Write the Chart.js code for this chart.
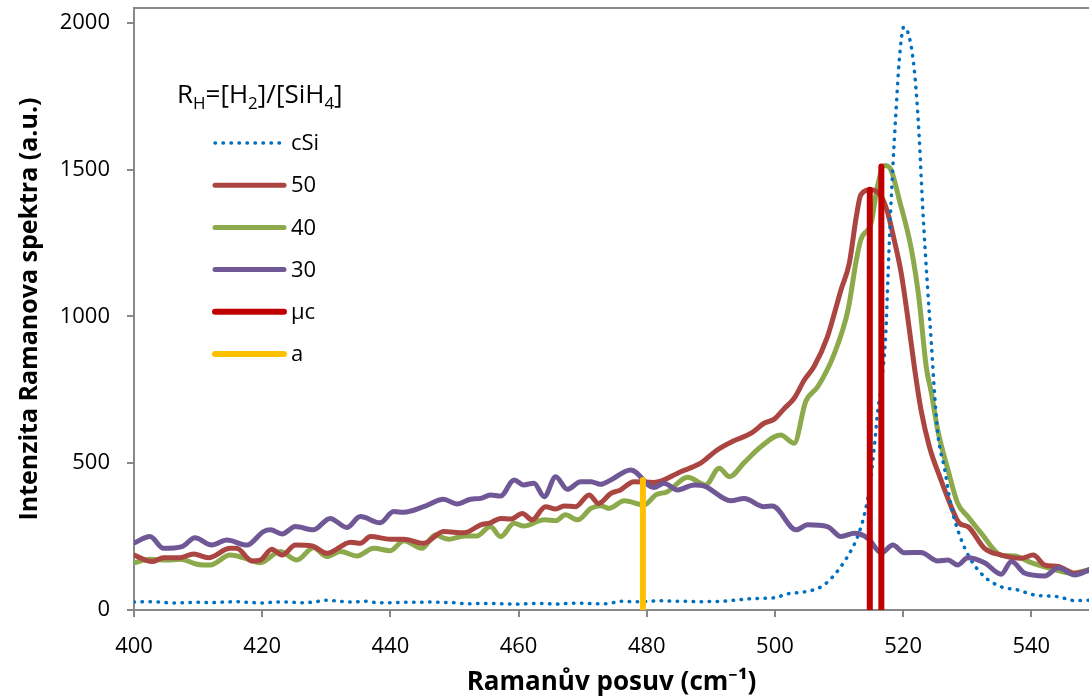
<!DOCTYPE html>
<html>
<head>
<meta charset="utf-8">
<script src="https://cdn.jsdelivr.net/npm/chart.js@4.4.1/dist/chart.umd.min.js"></script>
<style>
  html, body { margin: 0; padding: 0; background: #fff; }
</style>
</head>
<body>
<canvas id="myChart" width="1089" height="700"></canvas>
<script>
// Raman spectra, [shift cm-1, intensity]
const cSi = [[400,27],[402,28],[404,27],[406,24],[408,25],[410,26],[412,25],[414,27],[416,28],[418,26],[420,24],[422,27],[424,27],[426,25],[428,27],[430,33],[432,30],[434,27],[436,30],[438,25],[440,25],[442,26],[444,26],[446,27],[448,26],[450,25],[452,21],[454,22],[456,22],[458,21],[460,20],[462,22],[464,22],[466,20],[468,23],[470,23],[472,21],[474,22],[476,30],[478,28],[480,29],[482,32],[484,30],[486,30],[488,28],[490,29],[492,30],[494,34],[496,38],[498,40],[500,42],[502,55],[504,60],[505.6,66],[507.2,79],[508.8,108],[510.3,148],[511.9,204],[512.9,250],[514,329],[514.7,409],[515.5,556],[516,670],[516.6,770],[517.3,943],[517.6,1113],[517.9,1283],[518.4,1510],[518.9,1703],[519.4,1874],[520.1,1985],[520.7,1970],[521.5,1885],[522,1777],[522.5,1613],[523.1,1352],[523.8,1102],[524.4,909],[524.9,738],[525.4,602],[526.5,477],[527.5,352],[529.1,238],[530.6,170],[532.7,113],[535.3,79],[537.9,68],[540.5,51],[544.2,45],[546.8,32],[549,33]];

const rh50 = [[400,187],[402.8,165],[404.6,178],[407.2,178],[409.3,191],[411.6,178],[415,210],[416,210],[418.4,167],[419.7,170],[421.5,207],[423.1,187],[425.2,221],[427.8,218],[430.1,193],[433.8,231],[435.3,227],[436.9,250],[440,241],[442.1,241],[445.2,227],[448.3,267],[451.5,263],[454.1,290],[455.6,297],[457.2,312],[458.8,310],[460.6,329],[462.1,307],[464.2,352],[465.8,344],[467.1,354],[468.9,352],[471,392],[472.5,363],[474.4,397],[475.9,409],[478,437],[481.1,434],[485.3,471],[488.4,500],[491,545],[493.6,576],[496.3,602],[498.3,636],[499.9,650],[501.5,687],[503,721],[504.6,784],[506.1,829],[508.2,931],[510.3,1090],[511.6,1181],[512.7,1340],[513.4,1414],[515,1431],[516.6,1408],[517.6,1352],[518.6,1261],[519.7,1147],[520.7,999],[521.8,820],[522.8,680],[524.1,556],[525.9,443],[527.5,352],[528.8,295],[530.1,284],[532.7,210],[535.3,187],[538.4,176],[540.3,187],[542.1,153],[544.2,148],[546.8,125],[549.2,136]];

const rh40 = [[400,161],[402.5,173],[405.1,170],[407.2,173],[409.8,156],[411.9,153],[415,187],[417.1,178],[419.7,161],[422.8,199],[425.4,170],[428,212],[430.1,182],[432.2,199],[434.8,184],[437.4,210],[440,202],[442.1,236],[444.9,210],[447,255],[449.1,241],[451.5,252],[453.5,252],[455.6,284],[457.2,250],[459.3,295],[460.8,286],[464,307],[465.8,304],[467.3,324],[469.2,307],[471.3,346],[472.8,355],[474.1,346],[476.5,372],[479.6,358],[481.4,392],[483.2,403],[486.4,452],[489.2,426],[491.3,483],[492.9,454],[495.2,502],[497.8,556],[500.9,596],[503,568],[504.8,710],[506.7,761],[509.3,875],[511.4,1022],[512.7,1192],[513.4,1261],[515,1318],[516,1443],[517.1,1514],[518.1,1499],[519.4,1397],[521.3,1227],[522.5,1056],[523.6,829],[524.4,740],[525.4,613],[527,477],[528.5,364],[530.1,318],[532.2,261],[535.3,187],[537.4,184],[540,161],[542.6,144],[546.3,125],[549.2,139]];

const rh30 = [[400,228],[402.5,250],[404.6,210],[407.5,216],[409.5,246],[412.1,221],[414.5,238],[417.6,221],[420.2,267],[421.3,273],[423.1,259],[425.2,284],[428,273],[430.6,312],[433.2,281],[435.3,318],[438.4,297],[440.5,335],[442.1,333],[445.2,352],[448.3,377],[450.4,361],[452.5,377],[454.1,380],[455.6,392],[457.2,388],[459.3,443],[460.8,426],[462.4,432],[464,386],[465.8,454],[467.6,411],[469.7,437],[471.3,437],[472.8,428],[474.4,443],[477.5,477],[481.1,417],[482.7,432],[484.8,409],[487.4,426],[489,422],[493.1,372],[495.2,380],[498.3,352],[499.6,354],[503.3,273],[505.1,290],[508.2,284],[510.3,250],[512.4,261],[514.5,244],[516.6,195],[518.4,221],[520.2,195],[522.8,196],[525.4,167],[527,170],[528.5,153],[530.1,178],[532.7,161],[535.3,122],[536.9,165],[539,125],[542.1,116],[544.2,144],[546.8,119],[549.2,139]];

// marker lines: microcrystalline and amorphous positions
const muc = [[514.8,0],[514.8,1431],[515.7,null],[516.6,1510],[516.6,0]];
const amorph = [[479.4,0],[479.4,443]];

const labels = ['cSi', '50', '40', '30', 'μc', 'a'];
const yTicks = [0, 500, 1000, 1500, 2000];
const xTicks = [400, 420, 440, 460, 480, 500, 520, 540];

const FONT = "'Open Sans', 'Noto Sans', sans-serif";

function pts(arr) {
    return arr.map(function(p) { return { x: p[0], y: p[1] }; });
}

// legend drawn inside the plot, like the original
const legendBox = {
    id: 'legendBox',
    afterDraw(chart) {
        const c = chart.ctx;
        c.save();
        c.fillStyle = '#000';
        c.textBaseline = 'alphabetic';
        // title R_H=[H_2]/[SiH_4]
        let x = 177, y = 103;
        const parts = [['R', 0], ['H', 1], ['=[H', 0], ['2', 1], [']/[SiH', 0], ['4', 1], [']', 0]];
        parts.forEach(function(p) {
            c.font = p[1] ? '17px ' + FONT : '26px ' + FONT;
            c.fillText(p[0], x, y + (p[1] ? 6 : 0));
            x += c.measureText(p[0]).width;
        });

        c.font = '22px ' + FONT;
        c.textBaseline = 'middle';
        chart.data.datasets.forEach(function(ds, i) {
            const ly = 143 + i * 42.2;
            c.beginPath();
            c.strokeStyle = ds.borderColor;
            c.lineWidth = ds.borderWidth;
            c.lineCap = 'round';
            c.setLineDash(ds.borderDash || []);
            c.moveTo(215, ly);
            c.lineTo(284, ly);
            c.stroke();
            c.setLineDash([]);
            c.fillText(ds.label, 291, ly + 1);
        });
        c.restore();
    }
};

const topBorder = {
    id: 'topBorder',
    afterDraw(chart) {
        const a = chart.chartArea;
        const c = chart.ctx;
        c.save();
        c.strokeStyle = '#888';
        c.lineWidth = 2;
        c.beginPath();
        c.moveTo(a.left, a.top);
        c.lineTo(a.right, a.top);
        c.stroke();
        c.restore();
    }
};

const ctx = document.getElementById('myChart');
const myChart = new Chart(ctx, {
    type: 'scatter',
    data: {
        datasets: [
            { label: labels[0], data: pts(cSi), borderColor: '#0070C0', borderWidth: 3.5, borderDash: [0.5, 7.5], borderCapStyle: 'round', order: 3 },
            { label: labels[1], data: pts(rh50), borderColor: '#AB4541', borderWidth: 5, order: 4 },
            { label: labels[2], data: pts(rh40), borderColor: '#8CAA4C', borderWidth: 5, order: 5 },
            { label: labels[3], data: pts(rh30), borderColor: '#705796', borderWidth: 5, order: 2 },
            { label: labels[4], data: pts(muc), borderColor: '#C00000', borderWidth: 6, spanGaps: false, cubicInterpolationMode: 'default', tension: 0, order: 0 },
            { label: labels[5], data: pts(amorph), borderColor: '#FFC000', borderWidth: 6, tension: 0, order: 1 }
        ]
    },
    plugins: [legendBox, topBorder],
    options: {
        responsive: false,
        animation: false,
        devicePixelRatio: 1,
        layout: { padding: { top: 8, right: 0, left: 0, bottom: 0 } },
        showLine: true,
        elements: {
            point: { radius: 0, hoverRadius: 0 },
            line: { cubicInterpolationMode: 'monotone', borderCapStyle: 'round', borderJoinStyle: 'round', fill: false }
        },
        plugins: {
            legend: { display: false },
            tooltip: { enabled: false }
        },
        scales: {
            x: {
                type: 'linear',
                min: 400,
                max: 549,
                afterBuildTicks: function(s) { s.ticks = xTicks.map(function(v) { return { value: v }; }); },
                afterFit: function(s) { s.height = 90; s.paddingLeft = 0; s.paddingRight = 0; },
                ticks: { color: '#000', font: { family: FONT, size: 22 }, padding: 17, maxRotation: 0, callback: function(v) { return String(v); } },
                grid: { drawOnChartArea: false, drawTicks: true, tickLength: 7, color: '#888', lineWidth: 2 },
                border: { color: '#888', width: 2 },
                title: { display: true, text: 'Ramanův posuv (cm⁻¹)', color: '#000', font: { family: FONT, size: 26, weight: 'bold' }, padding: { top: 0, bottom: 2 } }
            },
            y: {
                type: 'linear',
                min: 0,
                max: 2050,
                afterBuildTicks: function(s) { s.ticks = yTicks.map(function(v) { return { value: v }; }); },
                afterFit: function(s) { s.width = 134; s.paddingTop = 0; s.paddingBottom = 0; },
                ticks: { color: '#000', font: { family: FONT, size: 22 }, padding: 17, callback: function(v) { return String(v); } },
                grid: { drawOnChartArea: false, drawTicks: true, tickLength: 7, color: '#888', lineWidth: 2 },
                border: { color: '#888', width: 2 },
                title: { display: true, text: 'Intenzita Ramanova spektra (a.u.)', color: '#000', font: { family: FONT, size: 25, weight: 'bold' }, padding: { top: 15, bottom: 0 } }
            }
        }
    }
});
</script>
</body>
</html>
